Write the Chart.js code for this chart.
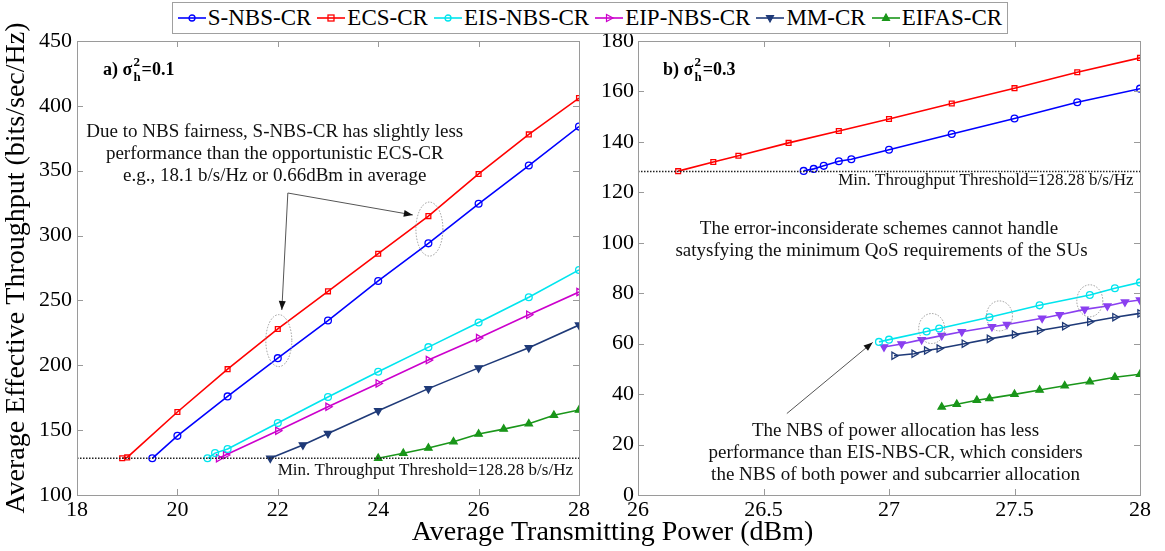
<!DOCTYPE html>
<html>
<head>
<meta charset="utf-8">
<script src="https://cdn.jsdelivr.net/npm/chart.js@4.4.1/dist/chart.umd.min.js"></script>
<style>
  body { margin: 0; background: #fff; width: 1165px; height: 551px; position: relative; overflow: hidden; font-family: "Liberation Serif", "Times New Roman", serif; }
  #wrapA { position: absolute; left: 0; top: 0; width: 600px; height: 551px; }
  #wrapB { position: absolute; left: 600px; top: 0; width: 565px; height: 551px; }
  #legend { position: absolute; left: 172px; top: 2px; width: 834px; height: 30px; border: 1px solid #a0a0a0; background: #fff;
            display: flex; align-items: center; justify-content: center; gap: 6px; font-size: 23px; z-index: 2; }
  #legend .item { display: flex; align-items: center; }
  #legend svg { margin-right: 2px; }
  #xtitle { position: absolute; left: 0; width: 1225px; top: 515px; text-align: center; font-size: 28px; color: #000; }
</style>
</head>
<body>
<div id="wrapA"><canvas id="chartA" width="600" height="551"></canvas></div>
<div id="wrapB"><canvas id="chartB" width="565" height="551"></canvas></div>
<div id="legend"></div>
<div id="xtitle">Average Transmitting Power (dBm)</div>
<script>
// series names
const seriesNames = ['S-NBS-CR', 'ECS-CR', 'EIS-NBS-CR', 'EIP-NBS-CR', 'MM-CR', 'EIFAS-CR'];

// panel a) sigma_h^2 = 0.1
const aSnbsX = [19.5, 20, 21, 22, 23, 24, 25, 26, 27, 28];
const aSnbsY = [128.3, 145.6, 176, 205.5, 234.5, 265, 294, 324.5, 354, 384];
const aEcsX = [18.9, 19, 20, 21, 22, 23, 24, 25, 26, 27, 28];
const aEcsY = [128.3, 129, 164, 197, 228, 257, 286, 315, 347.5, 378, 406];
const aEisX = [20.6, 20.75, 21, 22, 23, 24, 25, 26, 27, 28];
const aEisY = [128.3, 132.3, 135.5, 155.5, 175.5, 195, 214, 233, 252.5, 273.5];
const aEipX = [20.82, 20.96, 22, 23, 24, 25, 26, 27, 28];
const aEipY = [128.3, 130.8, 149.5, 168, 186, 204, 221, 239, 256.5];
const aMmX = [21.85, 22.5, 23, 24, 25, 26, 27, 28];
const aMmY = [128.3, 138.6, 147.4, 165, 182, 198, 213.6, 231];
const aEifasX = [24, 24.5, 25, 25.5, 26, 26.5, 27, 27.5, 28];
const aEifasY = [128.3, 132.2, 136.2, 141, 147, 150.8, 155, 161.5, 165.5];

// panel b) sigma_h^2 = 0.3
const bSnbsX = [26.66, 26.7, 26.74, 26.8, 26.85, 27, 27.25, 27.5, 27.75, 28];
const bSnbsY = [128.5, 129.3, 130.5, 132.3, 133.1, 136.9, 143.1, 149.3, 155.7, 161.1];
const bEcsX = [26.16, 26.3, 26.4, 26.6, 26.8, 27, 27.25, 27.5, 27.75, 28];
const bEcsY = [128.4, 132, 134.5, 139.6, 144.3, 149.1, 155.2, 161.3, 167.6, 173.3];
const bEisX = [26.96, 27, 27.15, 27.2, 27.4, 27.6, 27.8, 27.9, 28];
const bEisY = [60.7, 61.6, 64.8, 66, 70.5, 75.2, 79.3, 82, 84.3];
const bEipX = [26.98, 27.05, 27.13, 27.21, 27.29, 27.41, 27.47, 27.61, 27.68, 27.78, 27.87, 27.94, 28];
const bEipY = [58.7, 59.9, 61.6, 63.2, 64.7, 66.7, 67.6, 70.1, 71.5, 73.6, 74.9, 76.5, 77.3];
const bMmX = [27.02, 27.1, 27.15, 27.2, 27.3, 27.4, 27.5, 27.6, 27.7, 27.8, 27.9, 28];
const bMmY = [55.2, 56, 57.3, 58.1, 60, 61.9, 63.6, 65.2, 66.9, 68.7, 70.5, 72];
const bEifasX = [27.21, 27.27, 27.35, 27.4, 27.5, 27.6, 27.7, 27.8, 27.9, 28];
const bEifasY = [34.9, 36, 37.6, 38.3, 39.9, 41.6, 43.3, 44.9, 46.7, 47.9];

const threshold = 128.28;

// axes
const aXTicks = [18, 20, 22, 24, 26, 28];
const aYTicks = [100, 150, 200, 250, 300, 350, 400, 450];
const bXTicks = [26, 26.5, 27, 27.5, 28];
const bYTicks = [0, 20, 40, 60, 80, 100, 120, 140, 160, 180];

const FONT = '"Liberation Serif", "Times New Roman", serif';

function pts(xs, ys) { return xs.map((x, i) => ({ x: x, y: ys[i] })); }

function series(label, xs, ys, color, style, rot, filled) {
  return {
    label: label,
    data: pts(xs, ys),
    borderColor: color,
    backgroundColor: color,
    borderWidth: 1.6,
    pointStyle: style,
    pointRotation: rot || 0,
    pointRadius: style === 'triangle' ? 4.2 : 3.4,
    pointBorderWidth: 1.3,
    pointBorderColor: color,
    pointBackgroundColor: filled ? color : 'rgba(255,255,255,0)',
    tension: 0
  };
}

function thresholdLine(x0, x1) {
  return {
    label: 'threshold',
    data: [{ x: x0, y: threshold }, { x: x1, y: threshold }],
    borderColor: '#222',
    borderWidth: 1.4,
    borderDash: [1.5, 1.5],
    pointRadius: 0
  };
}

// box with inward ticks, like the original plot
const boxPlugin = {
  id: 'box',
  afterDraw(chart) {
    const ctx = chart.ctx, a = chart.chartArea;
    const xs = chart.scales.x, ys = chart.scales.y;
    ctx.save();
    ctx.strokeStyle = '#9a9a9a';
    ctx.lineWidth = 1;
    ctx.strokeRect(a.left + 0.5, a.top + 0.5, a.right - a.left, a.bottom - a.top);
    const len = 6;
    ctx.beginPath();
    xs.ticks.forEach(t => {
      const p = Math.round(xs.getPixelForValue(t.value)) + 0.5;
      ctx.moveTo(p, a.bottom); ctx.lineTo(p, a.bottom - len);
      ctx.moveTo(p, a.top); ctx.lineTo(p, a.top + len);
    });
    ys.ticks.forEach(t => {
      const p = Math.round(ys.getPixelForValue(t.value)) + 0.5;
      ctx.moveTo(a.left, p); ctx.lineTo(a.left + len, p);
      ctx.moveTo(a.right, p); ctx.lineTo(a.right - len, p);
    });
    ctx.stroke();
    ctx.restore();
  }
};

// text notes, arrows and dotted ellipses, placed in data units
const notesPlugin = {
  id: 'notes',
  afterDatasetsDraw(chart, args, opts) {
    const ctx = chart.ctx, xs = chart.scales.x, ys = chart.scales.y;
    const px = v => xs.getPixelForValue(v), py = v => ys.getPixelForValue(v);
    ctx.save();
    ctx.fillStyle = '#111';
    ctx.textBaseline = 'middle';
    (opts.texts || []).forEach(t => {
      ctx.font = t.size + 'px ' + FONT;
      ctx.textAlign = t.align || 'center';
      ctx.fillText(t.text, px(t.x), py(t.y));
    });
    (opts.ellipses || []).forEach(e => {
      ctx.save();
      ctx.strokeStyle = '#999';
      ctx.lineWidth = 1;
      ctx.setLineDash([1.5, 1.5]);
      ctx.beginPath();
      ctx.ellipse(px(e.x), py(e.y), e.rx, e.ry, 0, 0, Math.PI * 2);
      ctx.stroke();
      ctx.restore();
    });
    (opts.arrows || []).forEach(ar => {
      const x0 = px(ar.from[0]), y0 = py(ar.from[1]);
      const x1 = px(ar.to[0]), y1 = py(ar.to[1]);
      ctx.strokeStyle = '#555';
      ctx.fillStyle = '#111';
      ctx.lineWidth = 1;
      ctx.beginPath(); ctx.moveTo(x0, y0); ctx.lineTo(x1, y1); ctx.stroke();
      const ang = Math.atan2(y1 - y0, x1 - x0), h = 9, w = 3.5;
      ctx.beginPath();
      ctx.moveTo(x1, y1);
      ctx.lineTo(x1 - h * Math.cos(ang) + w * Math.sin(ang), y1 - h * Math.sin(ang) - w * Math.cos(ang));
      ctx.lineTo(x1 - h * Math.cos(ang) - w * Math.sin(ang), y1 - h * Math.sin(ang) + w * Math.cos(ang));
      ctx.closePath(); ctx.fill();
    });
    if (opts.sigma) {
      const s = opts.sigma;
      let x = px(s.x); const y = py(s.y);
      ctx.fillStyle = '#000';
      ctx.textAlign = 'left';
      ctx.textBaseline = 'alphabetic';
      ctx.font = 'bold 18px ' + FONT;
      const head = s.prefix + ' \u03C3';
      ctx.fillText(head, x, y);
      x += ctx.measureText(head).width;
      ctx.font = 'bold 13px ' + FONT;
      ctx.fillText('2', x + 1, y - 9);
      ctx.fillText('h', x + 1, y + 6);
      x += ctx.measureText('h').width + 2;
      ctx.font = 'bold 18px ' + FONT;
      ctx.fillText('=' + s.value, x, y);
    }
    ctx.restore();
  }
};

function scaleOpts(min, max, ticks, fitW, fitH, yPad, title) {
  const tickFont = { family: FONT, size: 22 };
  return {
    x: {
      type: 'linear', min: min[0], max: max[0],
      afterBuildTicks: s => { s.ticks = ticks[0].map(v => ({ value: v })); },
      afterFit: s => { s.height = fitH; },
      grid: { display: false, drawTicks: false }, border: { display: false },
      ticks: { color: '#000', font: tickFont, padding: 2, maxRotation: 0, autoSkip: false, callback: v => String(v) }
    },
    y: {
      type: 'linear', min: min[1], max: max[1],
      afterBuildTicks: s => { s.ticks = ticks[1].map(v => ({ value: v })); },
      afterFit: s => { s.width = fitW; },
      grid: { display: false, drawTicks: false }, border: { display: false },
      ticks: { color: '#000', font: tickFont, padding: yPad, autoSkip: false, callback: v => String(v) },
      title: title ? { display: true, text: title, color: '#000', font: { family: FONT, size: 28 }, padding: { top: 0, bottom: 0 } } : { display: false }
    }
  };
}

const MAG = '#cc00cc', VIO = '#8a3ff0', NAVY = '#1f3a78', GREEN = '#1a961a';

function drawCharts() {
  new Chart(document.getElementById('chartA').getContext('2d'), {
    type: 'line',
    data: {
      datasets: [
        thresholdLine(18, 28),
        series(seriesNames[0], aSnbsX, aSnbsY, '#0000ff', 'circle'),
        series(seriesNames[1], aEcsX, aEcsY, '#ff0000', 'rect'),
        series(seriesNames[2], aEisX, aEisY, '#00e5ee', 'circle'),
        series(seriesNames[3], aEipX, aEipY, MAG, 'triangle', 90),
        series(seriesNames[4], aMmX, aMmY, NAVY, 'triangle', 180, true),
        series(seriesNames[5], aEifasX, aEifasY, GREEN, 'triangle', 0, true)
      ]
    },
    options: {
      responsive: false, animation: false,
      layout: { padding: { top: 41, right: 21, left: 0, bottom: 0 } },
      scales: scaleOpts([18, 100], [28, 450], [aXTicks, aYTicks], 77, 56, 5, 'Average Effective Throughput (bits/sec/Hz)'),
      plugins: {
        legend: { display: false }, tooltip: { enabled: false },
        notes: {
          sigma: { x: 18.52, y: 423.8, prefix: 'a)', value: '0.1' },
          texts: [
            { x: 21.94, y: 379.9, text: 'Due to NBS fairness, S-NBS-CR has slightly less', size: 19 },
            { x: 21.94, y: 362.9, text: 'performance than the opportunistic ECS-CR', size: 19 },
            { x: 21.94, y: 345.9, text: 'e.g., 18.1 b/s/Hz or 0.66dBm in average', size: 19 },
            { x: 27.88, y: 118.5, text: 'Min. Throughput Threshold=128.28 b/s/Hz', size: 17, align: 'right' }
          ],
          ellipses: [ { x: 22.02, y: 219, rx: 13, ry: 26 }, { x: 25.02, y: 305, rx: 13.5, ry: 27 } ],
          arrows: [ { from: [22.2, 332.8], to: [22.08, 242.6] }, { from: [22.2, 332.8], to: [24.69, 315.9] } ]
        }
      }
    },
    plugins: [notesPlugin, boxPlugin]
  });

  new Chart(document.getElementById('chartB').getContext('2d'), {
    type: 'line',
    data: {
      datasets: [
        thresholdLine(26, 28),
        series(seriesNames[0], bSnbsX, bSnbsY, '#0000ff', 'circle'),
        series(seriesNames[1], bEcsX, bEcsY, '#ff0000', 'rect'),
        series(seriesNames[2], bEisX, bEisY, '#00e5ee', 'circle'),
        series(seriesNames[3], bEipX, bEipY, VIO, 'triangle', 180, true),
        series(seriesNames[4], bMmX, bMmY, NAVY, 'triangle', 90),
        series(seriesNames[5], bEifasX, bEifasY, GREEN, 'triangle', 0, true)
      ]
    },
    options: {
      responsive: false, animation: false,
      layout: { padding: { top: 41, right: 25, left: 0, bottom: 0 } },
      scales: scaleOpts([26, 0], [28, 180], [bXTicks, bYTicks], 38, 56, 4, null),
      plugins: {
        legend: { display: false }, tooltip: { enabled: false },
        notes: {
          sigma: { x: 26.1, y: 166.7, prefix: 'b)', value: '0.3' },
          texts: [
            { x: 27.974, y: 124.7, text: 'Min. Throughput Threshold=128.28 b/s/Hz', size: 17, align: 'right' },
            { x: 26.96, y: 105.3, text: 'The error-inconsiderate schemes cannot handle', size: 19 },
            { x: 26.97, y: 96.7, text: 'satysfying the minimum QoS requirements of the SUs', size: 19 },
            { x: 27.026, y: 25.3, text: 'The NBS of power allocation has less', size: 19 },
            { x: 27.026, y: 16.5, text: 'performance than EIS-NBS-CR, which considers', size: 19 },
            { x: 27.026, y: 8, text: 'the NBS of both power and subcarrier allocation', size: 19 }
          ],
          ellipses: [ { x: 27.17, y: 66, rx: 13, ry: 15 }, { x: 27.44, y: 71, rx: 13, ry: 15 }, { x: 27.8, y: 77, rx: 13, ry: 16 } ],
          arrows: [ { from: [26.593, 32.3], to: [26.935, 60.5] } ]
        }
      }
    },
    plugins: [notesPlugin, boxPlugin]
  });
}

// shared legend
const legendStyles = [
  ['#0000ff', 'circle', 0, false], ['#ff0000', 'rect', 0, false], ['#00e5ee', 'circle', 0, false],
  [MAG, 'tri', 90, false], [NAVY, 'tri', 180, true], [GREEN, 'tri', 0, true]
];
const legendEl = document.getElementById('legend');
seriesNames.forEach((name, i) => {
  const [c, shape, rot, filled] = legendStyles[i];
  let mark;
  const fill = filled ? c : 'none';
  if (shape === 'circle') mark = `<circle cx="14" cy="7" r="3" fill="none" stroke="${c}" stroke-width="1.3"/>`;
  else if (shape === 'rect') mark = `<rect x="11" y="4" width="6" height="6" fill="none" stroke="${c}" stroke-width="1.3"/>`;
  else mark = `<polygon points="14,3 17.5,9.5 10.5,9.5" fill="${fill}" stroke="${c}" stroke-width="1.2" transform="rotate(${rot} 14 7)"/>`;
  const item = document.createElement('div');
  item.className = 'item';
  item.innerHTML = `<svg width="28" height="14"><line x1="0" y1="7" x2="28" y2="7" stroke="${c}" stroke-width="1.6"/>${mark}</svg><span>${name}</span>`;
  legendEl.appendChild(item);
});

// make sure the serif face is ready before the canvas text is drawn
Promise.all([
  document.fonts.load('22px "Liberation Serif"'),
  document.fonts.load('bold 18px "Liberation Serif"')
]).then(drawCharts, drawCharts);
</script>
</body>
</html>
